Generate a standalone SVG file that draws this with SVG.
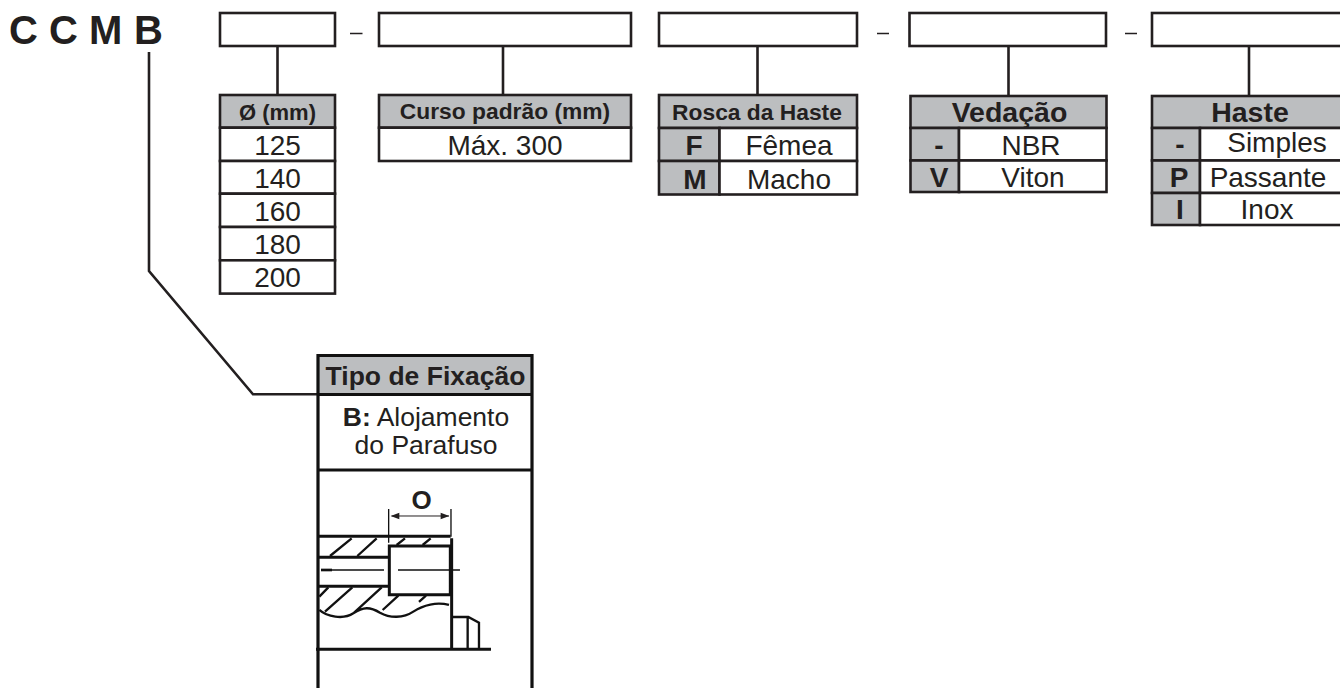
<svg xmlns="http://www.w3.org/2000/svg" width="1340" height="688" viewBox="0 0 1340 688">
<style>
text{font-family:"Liberation Sans",Arial,sans-serif;fill:#231f20;text-anchor:middle}
.b{font-weight:bold}
.h{font-weight:bold;font-size:22.800px}
.H{font-weight:bold;font-size:28.500px}
.r{font-size:28px}
.s{font-size:26.500px}
.k{font-weight:bold;font-size:28px}
.box{fill:#fff;stroke:#231f20;stroke-width:2.600}
.g{fill:#bcbec0;stroke:#231f20;stroke-width:2.600}
.l{fill:none;stroke:#231f20;stroke-width:2.600}
.t{fill:none;stroke:#231f20;stroke-width:1.300}
.f{fill:none;stroke:#111;stroke-width:3.200}
</style>
<rect width="1340" height="688" fill="#fff"/>
<g id="code"><text class="b" font-size="40" y="44" style="text-anchor:start" x="9 49 89 134">CCMB</text></g>
<g id="separators"><path class="t" d="M350,33.500H362.500M877,33.500H889M1125,33.500H1137"/></g>
<g id="connectors">
<path class="l" d="M277.500,46V95M503,46V95M757.500,46V95M1008.500,46V96M1249,46V96"/>
<path class="l" d="M149,52V271L253,394.300H318"/>
</g>
<g id="slot-1"><rect class="box" x="220" y="13" width="115" height="33"/></g>
<g id="slot-2"><rect class="box" x="379" y="13" width="252" height="33"/></g>
<g id="slot-3"><rect class="box" x="659" y="13" width="198" height="33"/></g>
<g id="slot-4"><rect class="box" x="909.500" y="13" width="196.500" height="33"/></g>
<g id="slot-5"><rect class="box" x="1152" y="13" width="200" height="33"/></g>
<g id="table-diametro">
<rect class="g" x="220" y="95" width="115" height="32.700"/>
<rect class="box" x="220" y="127.700" width="115" height="33.300"/>
<rect class="box" x="220" y="161" width="115" height="32.700"/>
<rect class="box" x="220" y="193.700" width="115" height="33.300"/>
<rect class="box" x="220" y="227" width="115" height="33.300"/>
<rect class="box" x="220" y="260.300" width="115" height="33.300"/>
<text class="b" style="font-size:22px" x="277.500" y="120">Ø (mm)</text>
<text class="r" x="277.500" y="155">125</text>
<text class="r" x="277.500" y="188">140</text>
<text class="r" x="277.500" y="221">160</text>
<text class="r" x="277.500" y="254">180</text>
<text class="r" x="277.500" y="287">200</text>
</g>
<g id="table-curso">
<rect class="g" x="379" y="95" width="252" height="32.700"/>
<rect class="box" x="379" y="127.700" width="252" height="33.300"/>
<text class="h" x="505" y="119">Curso padrão (mm)</text>
<text class="r" x="505" y="155">Máx. 300</text>
</g>
<g id="table-rosca">
<rect class="g" x="659" y="95" width="198" height="33"/>
<rect class="g" x="659" y="128" width="60.500" height="33"/>
<rect class="box" x="719.500" y="128" width="137.500" height="33"/>
<rect class="g" x="659" y="161" width="60.500" height="33.500"/>
<rect class="box" x="719.500" y="161" width="137.500" height="33.500"/>
<text class="h" x="757" y="120">Rosca da Haste</text>
<text class="k" x="694" y="155">F</text>
<text class="r" x="789" y="155">Fêmea</text>
<text class="k" x="695" y="189">M</text>
<text class="r" x="789" y="189">Macho</text>
</g>
<g id="table-vedacao">
<rect class="g" x="910.500" y="96" width="196" height="32"/>
<rect class="g" x="910.500" y="128" width="48.500" height="32.500"/>
<rect class="box" x="959" y="128" width="147.500" height="32.500"/>
<rect class="g" x="910.500" y="160.500" width="48.500" height="31.500"/>
<rect class="box" x="959" y="160.500" width="147.500" height="31.500"/>
<text class="H" x="1009.500" y="122">Vedação</text>
<text class="k" x="939" y="155">-</text>
<text class="r" x="1031" y="155">NBR</text>
<text class="k" x="939" y="187">V</text>
<text class="r" x="1033" y="187">Viton</text>
</g>
<g id="table-haste">
<rect class="g" x="1152" y="96" width="200" height="32"/>
<rect class="g" x="1152" y="128" width="48" height="32.500"/>
<rect class="box" x="1200" y="128" width="152" height="32.500"/>
<rect class="g" x="1152" y="160.500" width="48" height="32.500"/>
<rect class="box" x="1200" y="160.500" width="152" height="32.500"/>
<rect class="g" x="1152" y="193" width="48" height="32"/>
<rect class="box" x="1200" y="193" width="152" height="32"/>
<text class="H" x="1250" y="122">Haste</text>
<text class="k" x="1180" y="154">-</text>
<text class="r" x="1277" y="152">Simples</text>
<text class="k" x="1179" y="187">P</text>
<text class="r" x="1268" y="187">Passante</text>
<text class="k" x="1180" y="219">I</text>
<text class="r" x="1267" y="219">Inox</text>
</g>
<g id="fixacao">
<rect x="318" y="355.500" width="214" height="39" fill="#bcbec0"/>
<path class="f" d="M318,688V355.500H532V688M318,394.500H532M318,470H532"/>
<text class="b" style="font-size:26.500px" x="425.500" y="385">Tipo de Fixação</text>
<text class="s" x="426" y="426"><tspan class="b">B:</tspan> Alojamento</text>
<text class="s" x="426" y="454">do Parafuso</text>
<g transform="translate(300 470) scale(.3333)">
<path fill="none" stroke="#111" stroke-width="9" d="M55,199H452M455,205V538M48,538H573M268,228H451V374H268ZM55,262H268M55,349H268"/>
<path fill="none" stroke="#111" stroke-width="7" d="M90,258L155,205M172,258L230,205M290,225L315,205M368,225L392,205M58,380L85,352M75,425L157,352M160,430L245,352M248,420L295,377M357,396L378,377M58,420C80,440 130,450 160,430C190,410 210,410 240,428C270,445 310,445 340,425C370,405 410,395 447,405M458,441H505L537,458V535M503,441V535"/>
<path fill="none" stroke="#111" stroke-width="4" d="M63,300H252M294,300H480M266,117V218M453,117V200"/>
<path fill="none" stroke="#111" stroke-width="8" d="M63,300H96"/>
<path fill="none" stroke="#231f20" stroke-width="3" d="M275,138H447"/>
<path fill="#231f20" d="M272,138L298,128V148ZM448,138L422,128V148Z"/>
</g>
<text class="b" x="421.500" y="509" style="font-size:26px">O</text>
</g>
</svg>
